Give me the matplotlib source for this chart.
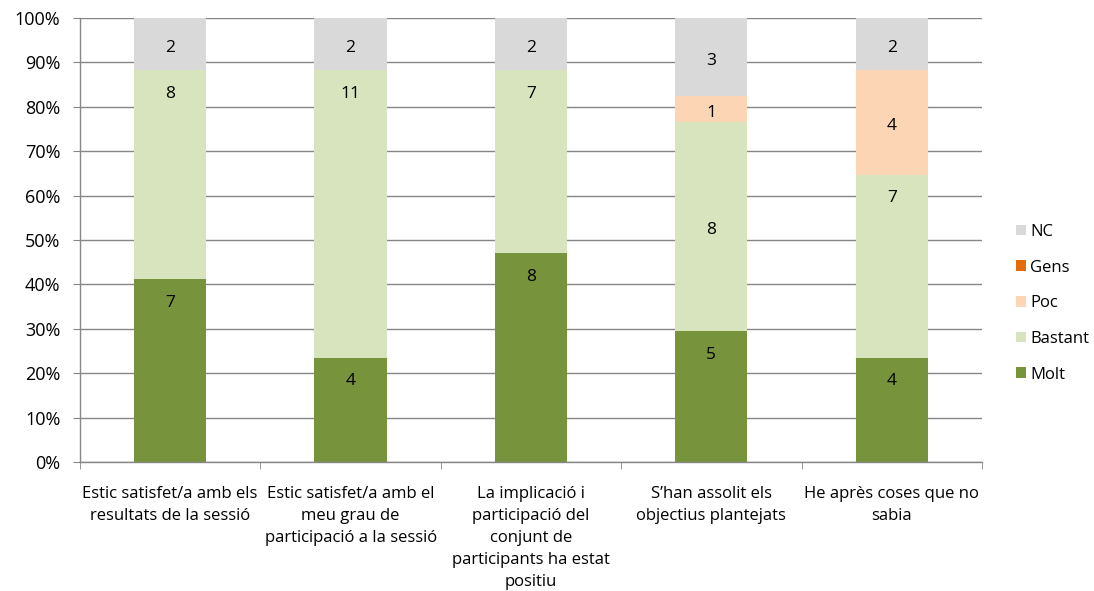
import matplotlib
matplotlib.use("Agg")
import matplotlib.pyplot as plt
import numpy as np

plt.rcParams['font.family'] = ['Open Sans', 'DejaVu Sans']

categories = [
    "Estic satisfet/a amb els\nresultats de la sessió",
    "Estic satisfet/a amb el\nmeu grau de\nparticipació a la sessió",
    "La implicació i\nparticipació del\nconjunt de\nparticipants ha estat\npositiu",
    "S’han assolit els\nobjectius plantejats",
    "He après coses que no\nsabia",
]
series_names = ["Molt", "Bastant", "Poc", "Gens", "NC"]
molt = [7, 4, 8, 5, 4]
bastant = [8, 11, 7, 8, 7]
poc = [0, 0, 0, 1, 4]
gens = [0, 0, 0, 0, 0]
nc = [2, 2, 2, 3, 2]
colors = ["#77933C", "#D7E4BD", "#FCD5B5", "#E46C0A", "#D9D9D9"]
# label placement per series: 'end' = inside end, 'center'
label_pos = ["end", "end", "center", "center", "center"]
yticks = [0, 10, 20, 30, 40, 50, 60, 70, 80, 90, 100]

data = np.array([molt, bastant, poc, gens, nc], dtype=float)
totals = data.sum(axis=0)
pct = data / totals * 100

fig = plt.figure(figsize=(10.94, 5.91), dpi=100)
ax = fig.add_axes([0.0731, 0.2183, 0.8245, 0.7512])
x = np.arange(len(categories))
bottom = np.zeros(len(categories))
grid_c = "#868686"
ax.set_axisbelow(True)
ax.yaxis.grid(True, color=grid_c, linewidth=1.0)
for i, name in enumerate(series_names):
    bars = ax.bar(x, pct[i], 0.4, bottom=bottom, color=colors[i], label=name, zorder=2)
    for j in range(len(categories)):
        v = data[i, j]
        if v > 0:
            pos = label_pos[i]
            if i == 1 and j == 3:
                pos = "center"
            if pos == "end":
                ax.annotate(f"{int(v)}", (x[j], bottom[j] + pct[i, j]), xytext=(0, -17),
                            textcoords="offset points", ha="center", va="center",
                            fontsize=12.5, color="#000000", zorder=3)
            else:
                ax.text(x[j], bottom[j] + pct[i, j] / 2 - 0.8, f"{int(v)}", ha="center", va="center",
                        fontsize=12.5, color="#000000", zorder=3)
    bottom += pct[i]

ax.set_xlim(-0.5, len(categories) - 0.5)
ax.set_ylim(0, 100)
ax.set_yticks(yticks)
ax.set_yticklabels([f"{t}%" for t in yticks], fontsize=13)
ax.set_xticks(x)
ax.set_xticklabels(categories, fontsize=12, linespacing=1.5)
ax.set_xticks(np.arange(-0.5, len(categories)), minor=True)
ax.tick_params(axis='x', which='major', length=0, pad=17)
ax.tick_params(axis='x', which='minor', length=5, color=grid_c, direction='out')
ax.tick_params(axis='y', length=5, color=grid_c, direction='out', pad=9)
for s in ["top", "right"]:
    ax.spines[s].set_visible(False)
for s in ["left", "bottom"]:
    ax.spines[s].set_color(grid_c)
    ax.spines[s].set_linewidth(1.0)

handles, labels = ax.get_legend_handles_labels()
leg = fig.legend(handles[::-1], labels[::-1], loc="center left", bbox_to_anchor=(0.915, 0.487),
                 frameon=False, fontsize=12, handlelength=0.6, handleheight=0.6,
                 handletextpad=0.25, labelspacing=1.18)

fig.savefig("out.png", dpi=100)
